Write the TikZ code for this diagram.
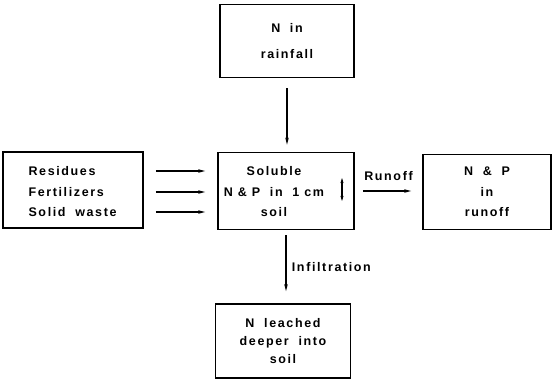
\documentclass[tikz,border=0pt]{standalone}
\usepackage{fontspec}
\setmainfont{Liberation Sans}[LetterSpace=13,WordSpace=1.9]
\usetikzlibrary{arrows.meta,positioning}

\begin{document}
\begin{tikzpicture}[x=1pt,y=-1pt,
    box/.style={draw,line width=1.6pt,inner sep=0pt},
    lbl/.style={font=\bfseries\fontsize{12.5}{20.5}\selectfont,align=center},
    arr/.style={line width=1.1pt,-{Stealth[length=7pt,width=3.5pt]}}]

      \useasboundingbox (0,0) rectangle (553,380);

      % boxes
      \node[box,lbl,minimum width=134pt,minimum height=73pt] (rain) at (287,41) {N in\\[5pt]rainfall};
      \node[box,minimum width=136pt,minimum height=77pt] (soil) at (286,191) {};
      \node[lbl] (soiltxt) at (274,192) {Soluble\\N\hspace{5pt}\&\hspace{5pt}P in 1\hspace{5pt}cm\\soil};
      \node[box,minimum width=140pt,minimum height=76pt] (inputs) at (73,190) {};
      \node[box,lbl,minimum width=128pt,minimum height=75pt] (runoff) at (487,192) {N \& P\\in\\runoff};
      \node[box,lbl,minimum width=135pt,minimum height=74pt,
            font=\bfseries\fontsize{12.5}{18}\selectfont] (leach) at (283,341) {N leached\\deeper into\\soil};

      % inputs
      \node[lbl,anchor=west] (res)   at (25,171) {Residues};
      \node[lbl,anchor=west] (fert)  at (25,192) {Fertilizers};
      \node[lbl,anchor=west] (solid) at (25,212) {Solid waste};

      % flows
      \draw[arr,shorten <=10pt,shorten >=7pt] (rain.south) -- (rain.south |- soil.north);
      \draw[arr,shorten <=12pt,shorten >=12pt] (inputs.east |- res) -- (soil.west |- res);
      \draw[arr,shorten <=12pt,shorten >=12pt] (inputs.east |- fert) -- (soil.west |- fert);
      \draw[arr,shorten <=12pt,shorten >=12pt] (inputs.east |- solid) -- (soil.west |- solid);
      \draw[arr,shorten <=8pt,shorten >=11pt] (soil.east) -- (runoff.west |- soil.east)
        node[midway,above=6pt,lbl] {Runoff};
      \draw[arr,shorten <=5pt,shorten >=12pt] (soil.south) -- (soil.south |- leach.north)
        node[midway,right=2pt,lbl] {Infiltration};

      % depth marker
      \coordinate (up) at (342,178);
      \coordinate (dn) at (342,201);
      \draw[line width=1.1pt,{Stealth[length=5pt,width=3pt]}-{Stealth[length=5pt,width=3pt]}] (up) -- (dn);

    \end{tikzpicture}
\end{document}
